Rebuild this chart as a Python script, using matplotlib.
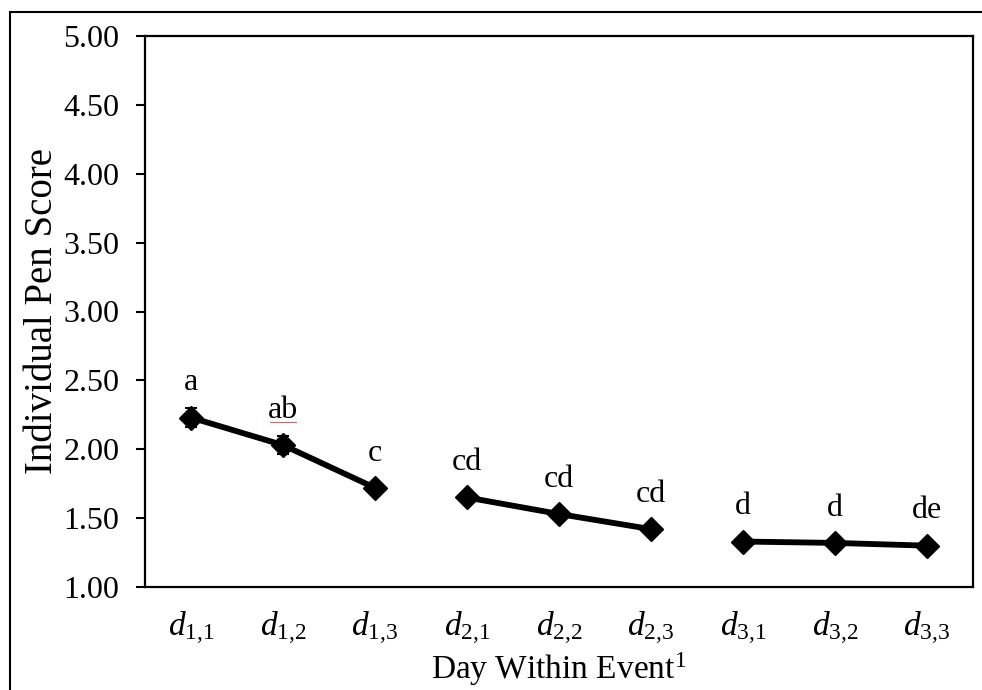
import matplotlib
matplotlib.use("Agg")
import matplotlib.pyplot as plt
from matplotlib.patches import Rectangle
import numpy as np

plt.rcParams["font.family"] = ["Liberation Serif", "DejaVu Serif"]
plt.rcParams["mathtext.fontset"] = "custom"
plt.rcParams["mathtext.rm"] = "Liberation Serif"
plt.rcParams["mathtext.it"] = "Liberation Serif:italic"

# Day-within-event categories, grouped by event
categories = [r"$d_{1{,}1}$", r"$d_{1{,}2}$", r"$d_{1{,}3}$",
              r"$d_{2{,}1}$", r"$d_{2{,}2}$", r"$d_{2{,}3}$",
              r"$d_{3{,}1}$", r"$d_{3{,}2}$", r"$d_{3{,}3}$"]
scores = [2.23, 2.03, 1.72, 1.65, 1.53, 1.42, 1.33, 1.32, 1.30]
errors = [0.07, 0.065, 0.035, 0.035, 0.03, 0.03, 0.03, 0.03, 0.03]
letters = ["a", "ab", "c", "cd", "cd", "cd", "d", "d", "de"]
events = [[0, 1, 2], [3, 4, 5], [6, 7, 8]]
yticks = [1.00, 1.50, 2.00, 2.50, 3.00, 3.50, 4.00, 4.50, 5.00]

fig = plt.figure(figsize=(9.82, 6.90), dpi=100)
ax = fig.add_axes([145 / 982, 1 - 587 / 690, (973 - 145) / 982, (587 - 36) / 690])

x = np.arange(len(categories))
y = np.array(scores)
e = np.array(errors)

for idx in events:
    ax.errorbar(x[idx], y[idx], yerr=e[idx], color="black", linewidth=4.2,
                marker="D", markersize=12, elinewidth=1.5, capsize=4,
                capthick=1.5, zorder=3)

for xi, yi, lab in zip(x, y, letters):
    t = ax.annotate(lab, (xi, yi), xytext=(0, 25), textcoords="offset points",
                    ha="center", va="center", fontsize=23)
    if lab == "ab":
        ab_text = t

ax.set_xlim(-0.5, len(categories) - 0.5)
ax.set_ylim(1.0, 5.0)
ax.set_yticks(yticks)
ax.set_yticklabels([f"{v:.2f}" for v in yticks])
ax.set_xticks(x)
ax.set_xticklabels(categories)

ax.tick_params(axis="y", direction="out", length=6.5, width=1.5, pad=12,
               labelsize=23)
ax.tick_params(axis="x", length=0, pad=16, labelsize=24)

for s in ax.spines.values():
    s.set_linewidth(1.6)
    s.set_color("black")

ax.set_ylabel("Individual Pen Score", fontsize=28, labelpad=2)
ax.set_xlabel(r"Day Within Event$^{1}$", fontsize=24, labelpad=3)

# spell-check style underline beneath the "ab" label
fig.canvas.draw()
bb = ab_text.get_window_extent().transformed(fig.transFigure.inverted())
fig.lines.append(plt.Line2D([bb.x0 + 0.002, bb.x1 - 0.002],
                            [bb.y0 + 0.004, bb.y0 + 0.004],
                            transform=fig.transFigure, color="#e06060",
                            linewidth=0.8))

# outer frame around the chart
fig.patches.append(Rectangle((10 / 982, -0.1), 1.2, (1 - 12 / 690) + 0.1,
                             transform=fig.transFigure, fill=False,
                             edgecolor="black", linewidth=1.5, clip_on=False))

fig.savefig("out.png", dpi=100)
